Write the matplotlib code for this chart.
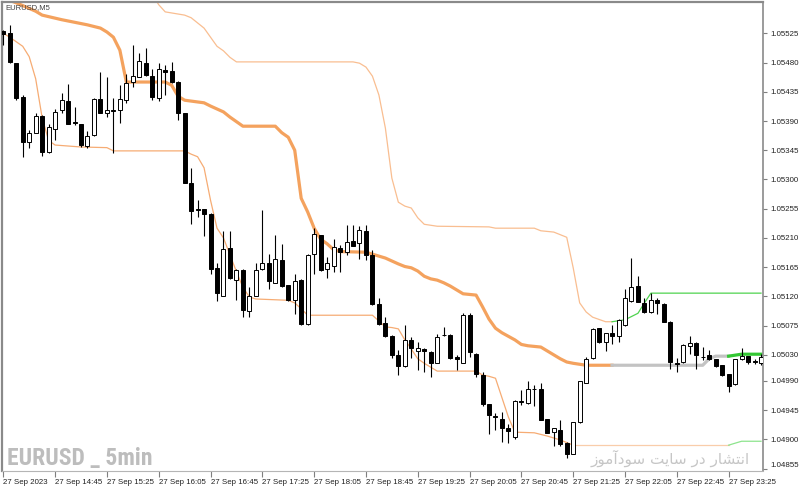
import matplotlib
matplotlib.use('Agg')
import matplotlib.pyplot as plt
from matplotlib import font_manager
import numpy as np

##########################################################################################
# EURUSD M5 candles with a channel indicator (27 Sep 2023)

open_ = [1.05529, 1.05526, 1.05480, 1.05427, 1.05358, 1.05372, 1.05397, 1.05343, 1.05377, 1.05407,
         1.05421, 1.05387, 1.05385, 1.05352, 1.05368, 1.05424, 1.05402, 1.05406, 1.05407, 1.05422,
         1.05450, 1.05458, 1.05480, 1.05460, 1.05426, 1.05468, 1.05467, 1.05450, 1.05402, 1.05294,
         1.05253, 1.05254, 1.05247, 1.05163, 1.05121, 1.05194, 1.05146, 1.05161, 1.05098, 1.05121,
         1.05162, 1.05171, 1.05141, 1.05176, 1.05137, 1.05115, 1.05146, 1.05077, 1.05185, 1.05214,
         1.05162, 1.05167, 1.05194, 1.05189, 1.05206, 1.05202, 1.05221, 1.05184, 1.05108, 1.05079,
         1.05059, 1.05030, 1.05013, 1.05053, 1.05036, 1.05039, 1.05035, 1.05018, 1.05060, 1.05061,
         1.05027, 1.05018, 1.05091, 1.05032, 1.04999, 1.04954, 1.04935, 1.04932, 1.04918, 1.04904,
         1.04958, 1.04956, 1.04977, 1.04978, 1.04931, 1.04912, 1.04915, 1.04895, 1.04878, 1.04926,
         1.04987, 1.05025, 1.05071, 1.05050, 1.05064, 1.05059, 1.05076, 1.05113, 1.05136, 1.05110,
         1.05096, 1.05115, 1.05108, 1.05081, 1.05017, 1.05019, 1.05044, 1.05049, 1.05026, 1.05030,
         1.05023, 1.05014, 1.05000, 1.04985, 1.05023, 1.05028, 1.05020, 1.05018]
high = [1.05530, 1.05538, 1.05480, 1.05430, 1.05376, 1.05402, 1.05399, 1.05385, 1.05408, 1.05433,
        1.05447, 1.05412, 1.05386, 1.05374, 1.05425, 1.05465, 1.05458, 1.05425, 1.05446, 1.05463,
        1.05507, 1.05494, 1.05502, 1.05470, 1.05480, 1.05476, 1.05481, 1.05451, 1.05403, 1.05317,
        1.05268, 1.05255, 1.05248, 1.05172, 1.05221, 1.05221, 1.05162, 1.05162, 1.05135, 1.05171,
        1.05253, 1.05186, 1.05214, 1.05201, 1.05138, 1.05154, 1.05147, 1.05185, 1.05225, 1.05215,
        1.05180, 1.05209, 1.05199, 1.05230, 1.05230, 1.05228, 1.05230, 1.05191, 1.05117, 1.05088,
        1.05060, 1.05037, 1.05076, 1.05058, 1.05050, 1.05040, 1.05036, 1.05062, 1.05073, 1.05062,
        1.05030, 1.05094, 1.05095, 1.05033, 1.05004, 1.04955, 1.04940, 1.04942, 1.04924, 1.04960,
        1.04976, 1.04990, 1.04984, 1.04986, 1.04932, 1.04918, 1.04930, 1.04896, 1.04927, 1.04990,
        1.05026, 1.05071, 1.05072, 1.05064, 1.05076, 1.05085, 1.05132, 1.05179, 1.05151, 1.05117,
        1.05125, 1.05117, 1.05110, 1.05082, 1.05025, 1.05046, 1.05059, 1.05050, 1.05042, 1.05037,
        1.05024, 1.05015, 1.05001, 1.05024, 1.05040, 1.05029, 1.05024, 1.05032]
low = [1.05507, 1.05480, 1.05422, 1.05335, 1.05349, 1.05371, 1.05336, 1.05340, 1.05360, 1.05402,
       1.05385, 1.05384, 1.05350, 1.05349, 1.05367, 1.05402, 1.05396, 1.05340, 1.05387, 1.05417,
       1.05443, 1.05457, 1.05459, 1.05422, 1.05421, 1.05430, 1.05449, 1.05391, 1.05294, 1.05231,
       1.05242, 1.05213, 1.05154, 1.05113, 1.05120, 1.05147, 1.05114, 1.05089, 1.05089, 1.05120,
       1.05161, 1.05132, 1.05140, 1.05134, 1.05113, 1.05093, 1.05076, 1.05076, 1.05154, 1.05159,
       1.05149, 1.05158, 1.05158, 1.05184, 1.05197, 1.05178, 1.05176, 1.05107, 1.05076, 1.05058,
       1.05025, 1.04999, 1.05012, 1.05025, 1.05006, 1.05004, 1.04996, 1.05017, 1.05059, 1.05024,
       1.05007, 1.05017, 1.05027, 1.04996, 1.04951, 1.04908, 1.04914, 1.04896, 1.04895, 1.04901,
       1.04953, 1.04955, 1.04952, 1.04929, 1.04909, 1.04889, 1.04890, 1.04871, 1.04877, 1.04925,
       1.04986, 1.05024, 1.05049, 1.05036, 1.05047, 1.05050, 1.05075, 1.05112, 1.05111, 1.05095,
       1.05095, 1.05093, 1.05080, 1.05008, 1.05004, 1.05018, 1.05032, 1.05008, 1.05022, 1.05022,
       1.05012, 1.04998, 1.04973, 1.04984, 1.05022, 1.05016, 1.05016, 1.05014]
close = [1.05524, 1.05481, 1.05426, 1.05358, 1.05372, 1.05397, 1.05343, 1.05381, 1.05404, 1.05423,
         1.05386, 1.05387, 1.05353, 1.05367, 1.05424, 1.05403, 1.05407, 1.05406, 1.05424, 1.05449,
         1.05459, 1.05482, 1.05461, 1.05427, 1.05470, 1.05465, 1.05450, 1.05403, 1.05295, 1.05251,
         1.05253, 1.05247, 1.05162, 1.05125, 1.05193, 1.05148, 1.05161, 1.05099, 1.05121, 1.05161,
         1.05172, 1.05143, 1.05177, 1.05136, 1.05114, 1.05144, 1.05077, 1.05184, 1.05216, 1.05160,
         1.05172, 1.05196, 1.05189, 1.05204, 1.05198, 1.05222, 1.05183, 1.05108, 1.05077, 1.05059,
         1.05030, 1.05013, 1.05053, 1.05040, 1.05040, 1.05036, 1.05018, 1.05058, 1.05061, 1.05025,
         1.05023, 1.05091, 1.05034, 1.05000, 1.04954, 1.04937, 1.04934, 1.04917, 1.04913, 1.04959,
         1.04958, 1.04977, 1.04978, 1.04930, 1.04910, 1.04917, 1.04893, 1.04878, 1.04926, 1.04989,
         1.05024, 1.05070, 1.05050, 1.05063, 1.05059, 1.05084, 1.05117, 1.05134, 1.05112, 1.05096,
         1.05115, 1.05110, 1.05081, 1.05019, 1.05016, 1.05045, 1.05048, 1.05030, 1.05026, 1.05024,
         1.05013, 1.04999, 1.04982, 1.05023, 1.05028, 1.05019, 1.05019, 1.05027]

# channel middle line (thick), orange -> gray -> green
mid_x = [0, 2, 5, 6, 9, 13, 15, 16, 17, 18, 19, 25, 26, 27, 28, 31, 32, 34, 35, 36,
         37, 42, 43, 44, 45, 46, 47, 48, 49, 50, 51, 52, 56, 57, 59, 61, 62, 63, 64, 65,
         66, 67, 68, 69, 70, 71, 73, 74, 75, 76, 77, 79, 80, 81, 83, 84, 85, 86, 87, 88, 90, 94]
mid_y = [1.05579, 1.05572, 1.05559, 1.05553, 1.05546, 1.05538, 1.05533, 1.05527, 1.05519, 1.05499,
         1.05450, 1.05450, 1.05445, 1.05428, 1.05422, 1.05418, 1.05413, 1.05404, 1.05396, 1.05389,
         1.05382, 1.05382, 1.05372, 1.05365, 1.05345, 1.05271, 1.05250, 1.05225, 1.05208, 1.05201,
         1.05192, 1.05189, 1.05188, 1.05185, 1.05179, 1.05170, 1.05166, 1.05164, 1.05159, 1.05151,
         1.05147, 1.05145, 1.05141, 1.05136, 1.05130, 1.05124, 1.05122, 1.05104, 1.05085, 1.05071,
         1.05064, 1.05053, 1.05046, 1.05044, 1.05042, 1.05036, 1.05030, 1.05024, 1.05019, 1.05017,
         1.05014, 1.05014]
mid_gray_x = [94, 108, 109, 110, 112]
mid_gray_y = [1.05014, 1.05014, 1.05024, 1.05028, 1.05028]
mid_green_x = [112, 114, 117]
mid_green_y = [1.05028, 1.05031, 1.05031]

# upper band
up_x = [22, 23, 24, 25, 28, 29, 31, 33, 34, 35, 36, 54, 55, 56, 57, 58, 59, 60, 61, 62,
        63, 64, 65, 67, 75, 76, 82, 83, 85, 87, 88, 89, 90, 91, 93, 94]
up_y = [1.05615, 1.05585, 1.05569, 1.05558, 1.05553, 1.05549, 1.05533, 1.05505, 1.05498, 1.05488,
        1.05481, 1.05481, 1.05479, 1.05473, 1.05459, 1.05430, 1.05379, 1.05302, 1.05265, 1.05259,
        1.05256, 1.05241, 1.05231, 1.05228, 1.05227, 1.05225, 1.05225, 1.05221, 1.05219, 1.05211,
        1.05164, 1.05110, 1.05096, 1.05088, 1.05081, 1.05081]
up_green_x = [94, 96, 98, 99, 100, 117]
up_green_y = [1.05081, 1.05084, 1.05094, 1.05110, 1.05125, 1.05125]

# lower band
lo_x = [0, 1, 2, 3, 4, 5, 6, 7, 8, 12, 16, 17, 28, 29, 30, 31, 32, 33, 34, 35,
        36, 37, 38, 39, 44, 45, 46, 47, 57, 58, 59, 60, 61, 62, 63, 64, 65, 66, 67, 73,
        74, 75, 76, 77, 78, 79, 82, 84, 86, 87, 88]
lo_y = [1.05525, 1.05519, 1.05512, 1.05505, 1.05489, 1.05455, 1.05395, 1.05360, 1.05353, 1.05350,
        1.05349, 1.05344, 1.05344, 1.05339, 1.05335, 1.05318, 1.05268, 1.05225, 1.05210, 1.05184,
        1.05158, 1.05134, 1.05119, 1.05116, 1.05114, 1.05110, 1.05101, 1.05091, 1.05091, 1.05082,
        1.05073, 1.05072, 1.05070, 1.05053, 1.05039, 1.05024, 1.05017, 1.05011, 1.05005, 1.05005,
        1.04999, 1.04997, 1.04994, 1.04964, 1.04934, 1.04911, 1.04910, 1.04905, 1.04899, 1.04895,
        1.04891]
lo_flat_x = [88, 112]
lo_flat_y = [1.04891, 1.04891]
lo_green_x = [112, 114, 117]
lo_green_y = [1.04891, 1.04897, 1.04897]

price_ticks = [1.05525, 1.05480, 1.05435, 1.05390, 1.05345, 1.05300, 1.05255, 1.05210,
               1.05165, 1.05120, 1.05075, 1.05030, 1.04990, 1.04945, 1.04900, 1.04855]
time_ticks = [0, 8, 16, 24, 32, 40, 48, 56, 64, 72, 80, 88, 96, 104, 112]
time_labels = ['27 Sep 2023', '27 Sep 14:45', '27 Sep 15:25', '27 Sep 16:05', '27 Sep 16:45',
               '27 Sep 17:25', '27 Sep 18:05', '27 Sep 18:45', '27 Sep 19:25', '27 Sep 20:05',
               '27 Sep 20:45', '27 Sep 21:25', '27 Sep 22:05', '27 Sep 22:45', '27 Sep 23:25']

# Persian watermark, written with presentation forms and reversed for left-to-right drawing
fa_logical = ('\uFE8D\uFEE7\uFE98\uFEB8\uFE8E\uFEAD \uFEA9\uFEAD '
              '\uFEB3\uFE8E\uFEF3\uFE96 \uFEB3\uFEEE\uFEA9\uFE81\uFEE3\uFEEE\uFEAF')
fa_text = fa_logical[::-1]

# a condensed bold face for the big watermark, if one is installed
installed = {f.name for f in font_manager.fontManager.ttflist}
wm_family, wm_size = 'DejaVu Sans', 13.5
for name in ['Roboto Condensed', 'Open Sans Condensed', 'Liberation Sans Narrow', 'DejaVu Sans Condensed']:
    if name in installed:
        wm_family, wm_size = name, 17
        break

fig = plt.figure(figsize=(8, 4.9), dpi=100)
ax = fig.add_axes([2/800, 19/490, 760.5/800, 469/490])

o = np.array(open_)
h = np.array(high)
l = np.array(low)
c = np.array(close)
x = np.arange(len(o))
bull = c > o

# indicator lines
ax.plot(up_x, up_y, color='#F9BE91', lw=0.9, zorder=2)
ax.plot(up_green_x, up_green_y, color='#4FD34F', lw=0.9, zorder=2)
ax.plot(lo_x, lo_y, color='#F6AC74', lw=0.9, zorder=2)
ax.plot(lo_flat_x, lo_flat_y, color='#F9CDAA', lw=0.9, zorder=2)
ax.plot(lo_green_x, lo_green_y, color='#8DE48D', lw=0.9, zorder=2)
ax.plot(mid_x, mid_y, color='#F4A25E', lw=2.3, zorder=2, solid_joinstyle='round')
ax.plot(mid_gray_x, mid_gray_y, color='#C3C3C3', lw=2.3, zorder=2, solid_joinstyle='round')
ax.plot(mid_green_x, mid_green_y, color='#33C733', lw=2.3, zorder=2, solid_joinstyle='round')

# candles
ax.vlines(x, l, h, color='black', lw=0.8, zorder=3)
body_lo = np.minimum(o, c)
body_h = np.maximum(np.abs(c - o), 0.000012)
ax.bar(x[bull], body_h[bull], bottom=body_lo[bull], width=0.62,
       facecolor='white', edgecolor='black', lw=0.7, zorder=4)
ax.bar(x[~bull], body_h[~bull], bottom=body_lo[~bull], width=0.62,
       facecolor='black', edgecolor='black', lw=0.7, zorder=4)

ax.set_xlim(-0.2, 117.23)
ax.set_ylim(1.048512, 1.055732)

ax.yaxis.tick_right()
ax.set_yticks(price_ticks)
ax.set_yticklabels(['%.5f' % p for p in price_ticks])
ax.set_xticks(time_ticks)
ax.set_xticklabels(time_labels)
ax.tick_params(axis='y', direction='out', length=3, width=0.8, color='#7f7f7f',
               labelsize=5.7, labelcolor='#222222', pad=3)
ax.tick_params(axis='x', direction='out', length=4, width=0.8, color='#7f7f7f',
               labelsize=5.7, labelcolor='#222222', pad=2)
for t in ax.get_xticklabels():
    t.set_horizontalalignment('left')
    t.set_fontfamily('Liberation Sans')
for t in ax.get_yticklabels():
    t.set_fontfamily('Liberation Sans')
ax.get_yticklabels()[-1].set_verticalalignment('bottom')

for side in ['left', 'top']:
    ax.spines[side].set_color('#8a8a8a')
    ax.spines[side].set_linewidth(1.6)
ax.spines['right'].set_color('#8a8a8a')
ax.spines['right'].set_linewidth(1.2)
ax.spines['bottom'].set_color('#b5b5b5')
ax.spines['bottom'].set_linewidth(0.8)

fig.text(5/800, 1 - 8/490, 'EURUSD,M5', fontsize=5.5, color='#404040',
         va='center', family='Liberation Sans')
fig.text(7/800, 1 - 458/490, 'EURUSD _ 5min', fontsize=wm_size, color='#BDBDBD',
         weight='bold', va='center', family=wm_family)
fig.text(750/800, 1 - 458/490, fa_text, fontsize=11, color='#C6C6C6',
         ha='right', va='center', family='DejaVu Sans')

fig.savefig('out.png', dpi=100)
